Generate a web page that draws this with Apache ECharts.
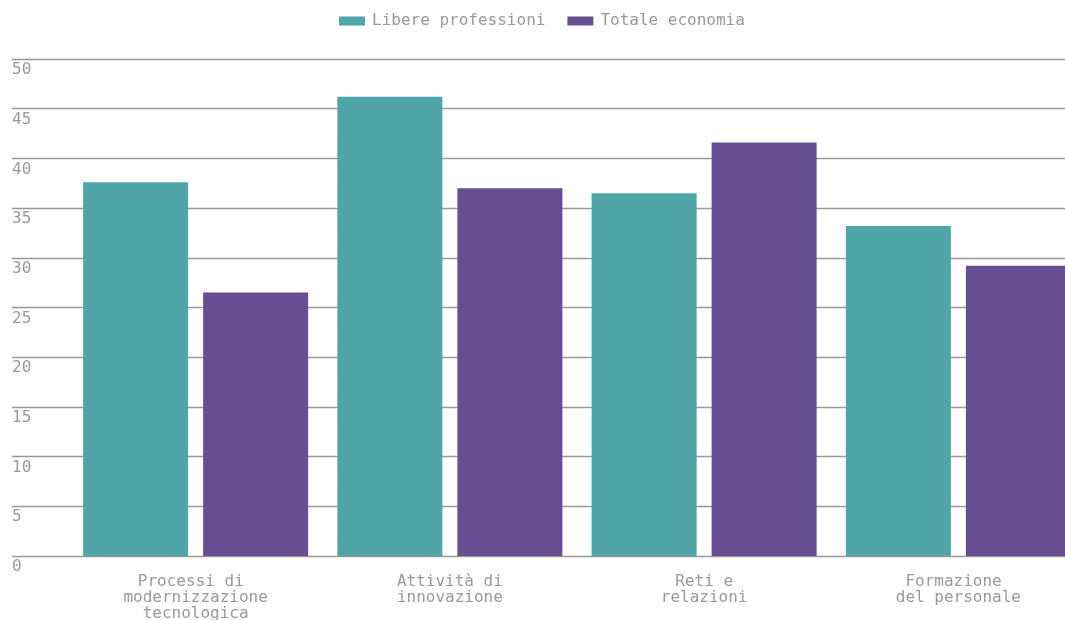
<!DOCTYPE html>
<html>
<head>
<meta charset="utf-8">
<script src="https://cdn.jsdelivr.net/npm/echarts@6/dist/echarts.min.js"></script>
<style>html,body{margin:0;padding:0;background:#fff}#c{width:1065px;height:620px}</style>
</head>
<body>
<div id="c"></div>
<script>
const categories = ['Processi di \nmodernizzazione\ntecnologica', 'Attività di\ninnovazione', 'Reti e\nrelazioni', 'Formazione \ndel personale'];
const seriesNames = ['Libere professioni', 'Totale economia'];
const libere = [37.6, 46.2, 36.5, 33.2];
const totale = [26.5, 37.0, 41.6, 29.2];
const yMin = 0, yMax = 50, yStep = 5;

const font = 'DejaVu Sans Mono';
const txt = '#999';
const chart = echarts.init(document.getElementById('c'));
chart.setOption({
  animation: false,
  textStyle: { fontFamily: font },
  color: ['#50a5a8', '#674d91'],
  legend: {
    top: 8, left: 334,
    icon: 'rect',
    itemWidth: 26, itemHeight: 9, itemGap: 22,
    textStyle: { fontFamily: font, fontSize: 16, color: txt, padding: [0, 0, 0, 2] },
    data: seriesNames
  },
  grid: [
    { left: 12, right: 0, top: 59, bottom: 64, containLabel: false, outerBoundsMode: 'none' },
    { left: 68.5, width: 1017, top: 59, bottom: 64, containLabel: false, outerBoundsMode: 'none' }
  ],
  xAxis: [
    { gridIndex: 0, type: 'category', data: [''], show: false },
    { gridIndex: 1, type: 'category', data: categories,
      axisLine: { show: false }, axisTick: { show: false },
      axisLabel: { fontFamily: font, fontSize: 16, color: txt, margin: 18, lineHeight: 16, interval: 0 } }
  ],
  yAxis: [
    { gridIndex: 0, type: 'value', min: yMin, max: yMax, interval: yStep,
      axisLine: { show: false }, axisTick: { show: false },
      splitLine: { lineStyle: { color: '#999', width: 1.3 } },
      axisLabel: { inside: true, margin: 0, verticalAlign: 'top', padding: [3, 0, 0, 0], fontFamily: font, fontSize: 16, color: txt } },
    { gridIndex: 1, type: 'value', min: yMin, max: yMax, interval: yStep, show: false, splitLine: { show: false } }
  ],
  series: [
    { name: seriesNames[0], type: 'bar', xAxisIndex: 1, yAxisIndex: 1, data: libere, barWidth: 105, barGap: '14.3%' },
    { name: seriesNames[1], type: 'bar', xAxisIndex: 1, yAxisIndex: 1, data: totale, barWidth: 105, barGap: '14.3%' }
  ]
});
</script>
</body>
</html>
